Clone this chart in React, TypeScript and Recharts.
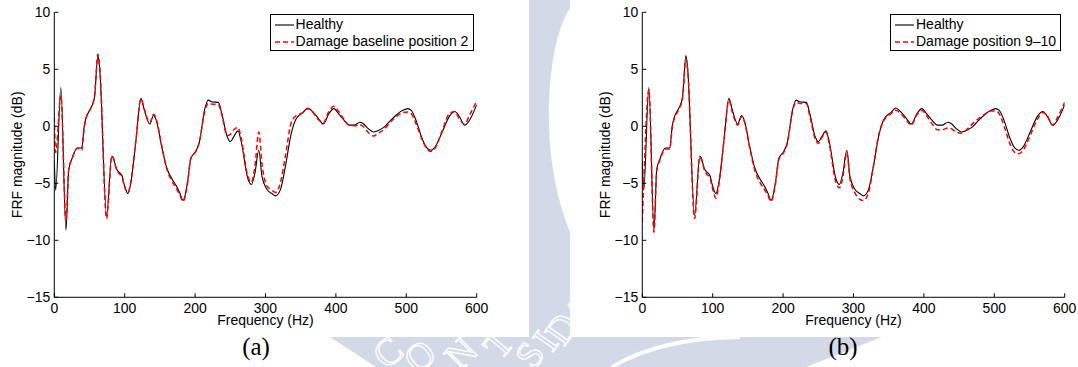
import React from 'react';
import { LineChart, Line, XAxis, YAxis, Legend } from 'recharts';

// frequency grid (Hz) shared by all three curves
const freqHz = [
  0, 2, 9.3, 16.6, 20.5, 25.4, 32.8, 39, 42.5, 45, 52, 57, 62, 64.5, 74.3, 81.7, 84, 88, 91.4, 96,
  98.8, 104.6, 108.6, 116, 123, 128, 135.5, 141, 145, 152.6, 160, 167, 173, 178, 183, 189, 194, 201,
  206, 213.7, 218.6, 223.5, 233, 238, 245.5, 250, 255, 261, 265, 275, 280, 285, 290.5, 295, 301.7,
  309, 314, 321, 328.6, 336, 343, 353, 360, 365, 375, 382, 390, 397, 404, 412, 419, 426, 434, 438.6,
  446, 453, 460.6, 468, 475, 485, 495, 502, 507, 514, 522, 529, 535, 541, 551, 561, 569, 575.5, 583,
  590, 600,
];

const healthyDb = [
  -3.0, -5.6, 3.4, -9.1, -3.8, -2.8, -1.9, -1.9, 0.0, 0.7, 1.6, 2.5, 6.2, 5.0, -7.8, -2.6, -2.8, -3.7, -4.0, -4.3,
  -5.0, -5.9, -5.0, -1.2, 2.45, 1.4, 0.2, 0.95, 0.5, -1.8, -3.7, -4.6, -5.2, -5.8, -6.5, -5.0, -2.8, -2.2,
  -1.4, 1.5, 2.3, 2.15, 2.1, 1.1, -0.9, -1.35, -0.9, -0.4, -1.2, -4.6, -5.1, -4.1, -2.1, -4.4, -5.5,
  -5.9, -6.1, -5.6, -3.4, -0.8, 0.6, 1.2, 1.6, 1.4, 0.7, 0.2, 1.1, 1.55, 1.1, 0.5, 0.1, 0.1, 0.35, 0.25,
  -0.2, -0.5, -0.35, -0.1, 0.35, 0.95, 1.4, 1.55, 1.4, 0.5, -1.0, -1.9, -2.1, -1.8, -0.5, 0.85, 1.3, 0.85, 0.1,
  0.55, 1.9,
];

const baselinePos2Db = [
  0.8, -2.3, 2.7, -8.2, -3.8, -2.8, -1.9, -2.1, -0.1, 0.7, 1.6, 2.6, 6.35, 5.2, -8.1, -2.6, -2.8, -3.7, -4.1, -4.4,
  -5.1, -5.8, -4.9, -1.2, 2.4, 1.5, 0.3, 1.05, 0.6, -1.7, -3.8, -4.8, -5.4, -6.0, -6.6, -5.1, -2.8, -2.2,
  -1.4, 1.3, 2.0, 1.95, 1.9, 1.0, -0.8, -0.7, -0.3, -0.1, -0.9, -4.4, -4.9, -3.5, -0.5, -3.3, -5.2,
  -5.6, -5.8, -5.0, -2.5, 0.2, 0.9, 1.2, 1.55, 1.4, 0.6, 0.3, 1.3, 1.75, 1.3, 0.55, 0.1, 0.05, 0.15, 0.0,
  -0.55, -0.85, -0.6, -0.3, 0.2, 0.8, 1.2, 1.25, 1.1, 0.2, -1.1, -1.95, -2.2, -1.9, -0.4, 1.1, 1.3, 0.6, 0.2,
  1.0, 2.2,
];

const position910Db = [
  -8.4, -5.0, 3.2, -9.3, -3.9, -2.9, -2.0, -2.0, -0.1, 0.6, 1.5, 2.4, 5.9, 4.9, -8.1, -2.7, -2.9, -3.8, -4.2, -4.5,
  -5.2, -6.3, -5.2, -1.3, 2.3, 1.2, 0.1, 0.85, 0.4, -1.9, -3.9, -4.9, -5.5, -6.0, -6.6, -5.1, -2.9, -2.3,
  -1.5, 1.4, 2.1, 2.0, 2.0, 0.9, -1.1, -1.5, -1.0, -0.5, -1.4, -4.9, -5.4, -4.4, -2.3, -4.6, -5.8,
  -6.4, -6.5, -5.9, -3.4, -0.7, 0.5, 1.1, 1.4, 1.25, 0.55, 0.1, 1.0, 1.4, 0.9, 0.2, -0.3, -0.3, -0.15, -0.2,
  -0.5, -0.6, -0.3, 0.15, 0.55, 1.0, 1.35, 1.35, 1.1, 0.0, -1.5, -2.3, -2.4, -2.1, -0.8, 0.6, 1.2, 0.9, 0.1,
  0.8, 2.1,
];

const xTicks = [0, 100, 200, 300, 400, 500, 600];
const yTicks = [-15, -10, -5, 0, 5, 10];

const FONT = '"Liberation Sans", Arial, Helvetica, sans-serif';
const SERIF = '"Liberation Serif", "Times New Roman", serif';
const WM = '#d3d9e7';

const toPoints = (vals: number[]) => freqHz.map((f, i) => ({ f, v: vals[i] }));

const fmtY = (v: number) => (v < 0 ? '\u2212' + Math.abs(v) : String(v));

interface SeriesDef {
  name: string;
  values: number[];
  color: string;
  dash?: string;
  width: number;
}

const LegendBox = ({ items }: { items: SeriesDef[] }) => (
  <div
    style={{
      boxSizing: 'border-box',
      width: '100%',
      height: '100%',
      border: '1px solid #000',
      background: '#fff',
      fontFamily: FONT,
      fontSize: 14,
      color: '#000',
      padding: '1px 0 0 4px',
      whiteSpace: 'nowrap',
    }}
  >
    {items.map((it) => (
      <div key={it.name} style={{ display: 'flex', alignItems: 'center', height: 17, lineHeight: '17px' }}>
        <svg width={19} height={8} style={{ flexShrink: 0 }}>
          <line x1={0} x2={19} y1={4} y2={4} stroke={it.color} strokeWidth={it.width} strokeDasharray={it.dash} />
        </svg>
        <span style={{ marginLeft: 2 }}>{it.name}</span>
      </div>
    ))}
  </div>
);

function Panel({ left, series, legendLeft, legendWidth }: {
  left: number;
  series: SeriesDef[];
  legendLeft: number;
  legendWidth: number;
}) {
  return (
    <div style={{ position: 'absolute', left, top: 0 }}>
      <LineChart width={490.7} height={337} margin={{ top: 12.3, right: 14, bottom: 9.7, left: 14 }}>
        <XAxis
          dataKey="f"
          type="number"
          domain={[0, 600]}
          ticks={xTicks}
          allowDataOverflow
          height={30}
          tickSize={-4}
          tickMargin={10}
          axisLine={{ stroke: '#000' }}
          tickLine={{ stroke: '#000' }}
          tick={{ fill: '#000', fontSize: 14, fontFamily: FONT }}
          label={{ value: 'Frequency (Hz)', position: 'insideBottom', offset: 2.3, fill: '#000', fontSize: 14, fontFamily: FONT }}
        />
        <XAxis
          xAxisId="top"
          orientation="top"
          dataKey="f"
          type="number"
          domain={[0, 600]}
          ticks={xTicks}
          allowDataOverflow
          height={0}
          tickSize={-4}
          tick={false}
          axisLine={{ stroke: '#000' }}
          tickLine={{ stroke: '#000' }}
        />
        <YAxis
          type="number"
          domain={[-15, 10]}
          ticks={yTicks}
          allowDataOverflow
          width={40.3}
          tickSize={-4}
          tickMargin={8}
          tickFormatter={fmtY}
          axisLine={{ stroke: '#000' }}
          tickLine={{ stroke: '#000' }}
          tick={{ fill: '#000', fontSize: 14, fontFamily: FONT }}
          label={{
            value: 'FRF magnitude (dB)',
            angle: -90,
            position: 'insideLeft',
            offset: 2.9,
            fill: '#000',
            fontSize: 14,
            fontFamily: FONT,
            style: { textAnchor: 'middle' },
          }}
        />
        <YAxis
          yAxisId="right"
          orientation="right"
          type="number"
          domain={[-15, 10]}
          ticks={yTicks}
          allowDataOverflow
          width={0}
          tickSize={-4}
          tick={false}
          axisLine={{ stroke: '#000' }}
          tickLine={{ stroke: '#000' }}
        />
        {series.map((s) => (
          <Line
            key={s.name}
            data={toPoints(s.values)}
            dataKey="v"
            name={s.name}
            type="monotone"
            stroke={s.color}
            strokeWidth={s.width}
            strokeDasharray={s.dash}
            dot={false}
            activeDot={false}
            isAnimationActive={false}
          />
        ))}
        <Legend
          layout="horizontal"
          verticalAlign="middle"
          align="center"
          wrapperStyle={{ left: legendLeft, top: 14.3, width: legendWidth, height: 36.4 }}
          content={() => <LegendBox items={series} />}
        />
      </LineChart>
    </div>
  );
}

const healthy: SeriesDef = { name: 'Healthy', values: healthyDb, color: '#000', width: 1.1 };

function Backdrop() {
  return (
    <svg width={1078} height={367} style={{ position: 'absolute', left: 0, top: 0 }}>
      <rect width={1078} height={367} fill="#fff" />
      <polygon points="529,0 570,0 570,337 882,337 806,367 376,367 330,337 529,337" fill={WM} />
      <path d="M570 8 C548 40 536 150 570 232 Z" fill="#fff" />
      <path d="M612 367 Q 660 338 740 337" stroke="#fff" strokeWidth={4} fill="none" />
      {[
        ['C', 396, 362, -40],
        ['O', 428, 366, -40],
        ['N', 470, 362, -45],
        ['T', 508, 352, -50],
        ['S', 540, 362, -55],
        ['I', 556, 348, -55],
        ['D', 572, 336, -55],
        ['A', 590, 318, -55],
      ].map(([ch, x, y, a]) => (
        <text
          key={String(ch)}
          x={x as number}
          y={y as number}
          transform={`rotate(${a} ${x} ${y})`}
          fontFamily={SERIF}
          fontSize={38}
          fill={WM}
          stroke="#fff"
          strokeWidth={1.3}
          textAnchor="middle"
        >
          {ch}
        </text>
      ))}
      <rect x={0} y={0} width={529} height={337} fill="#fff" />
      <rect x={570} y={0} width={508} height={337} fill="#fff" />
      <text x={256} y={355} textAnchor="middle" fontFamily={SERIF} fontSize={25} fill="#000">(a)</text>
      <text x={843} y={355} textAnchor="middle" fontFamily={SERIF} fontSize={25} fill="#000">(b)</text>
    </svg>
  );
}

export default function App() {
  const seriesA: SeriesDef[] = [
    healthy,
    { name: 'Damage baseline position 2', values: baselinePos2Db, color: '#ff0000', dash: '5 3', width: 1.5 },
  ];
  const seriesB: SeriesDef[] = [
    healthy,
    { name: 'Damage position 9\u201310', values: position910Db, color: '#ff0000', dash: '5 3', width: 1.5 },
  ];
  return (
    <div style={{ position: 'absolute', left: 0, top: 0, width: 1078, height: 367, overflow: 'hidden', background: '#fff' }}>
      <Backdrop />
      <Panel left={0} series={seriesA} legendLeft={269.6} legendWidth={204.2} />
      <Panel left={588} series={seriesB} legendLeft={302} legendWidth={171.4} />
    </div>
  );
}
